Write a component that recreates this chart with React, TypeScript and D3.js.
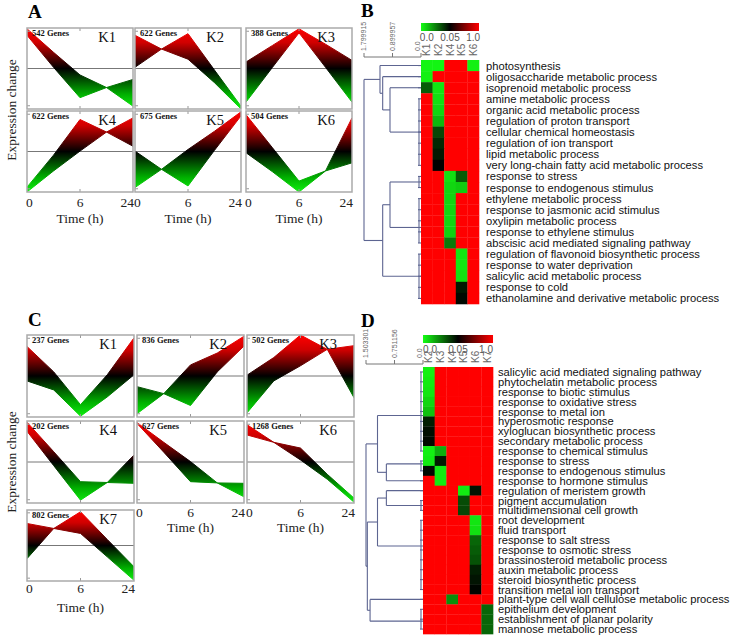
import React from "react";
import * as d3 from "d3";

const SERIF = "'Liberation Serif','Times New Roman',serif";
const SANS = "'Liberation Sans',Arial,sans-serif";

// ---------- time-course clusters ----------
const TIME_POINTS = ["0", "3", "6", "12", "24"];
const TIME_TICKS = ["0", "6", "24"];

const A_NAMES = ["K1", "K2", "K3", "K4", "K5", "K6"];
const A_GENES = [542, 622, 388, 622, 675, 504];
const A_UPPER = [
  [0.98, 0.4, -0.16, -0.47, -0.27],
  [0.82, 0.48, 0.86, -0.04, -0.93],
  [0.16, 0.57, 0.98, 0.6, 0.2],
  [-0.88, -0.09, 0.79, 0.48, 0.83],
  [0.01, -0.44, 0.05, 0.5, 0.98],
  [0.91, 0.09, -0.73, -0.48, 0.83],
];
const A_LOWER = [
  [0.82, 0.03, -0.72, -0.47, -0.93],
  [0.03, 0.48, 0.23, -0.35, -1.0],
  [-0.83, 0.03, 0.88, 0.03, -0.83],
  [-1.0, -0.48, 0.01, 0.48, 0.13],
  [-0.89, -0.44, -0.85, 0.03, 0.88],
  [-0.03, -0.5, -1.0, -0.48, -0.28],
];

const C_NAMES = ["K1", "K2", "K3", "K4", "K5", "K6", "K7"];
const C_GENES = [237, 836, 502, 202, 627, 1268, 802];
const C_UPPER = [
  [0.72, 0.1, -0.7, 0.03, 0.93],
  [-0.26, -0.43, 0.27, 0.56, 0.97],
  [0.02, 0.45, 1.0, 0.65, 0.74],
  [0.97, 0.25, -0.48, -0.5, 0.17],
  [0.96, 0.48, 0.01, -0.51, -0.52],
  [0.91, 0.48, 0.34, -0.3, -0.88],
  [0.62, 0.48, 0.95, 0.17, -0.6],
];
const C_LOWER = [
  [-0.12, -0.34, -0.98, -0.51, 0.03],
  [-0.92, -0.43, -0.72, 0.1, 0.73],
  [-0.9, -0.12, 0.25, 0.65, -0.53],
  [0.75, -0.09, -0.93, -0.5, -0.52],
  [0.94, 0.24, -0.48, -0.51, -0.85],
  [0.66, 0.48, 0.05, -0.42, -0.98],
  [-0.37, 0.48, 0.34, -0.32, -0.98],
];

// ---------- GO enrichment heatmaps ----------
const COLORBAR_TICKS = [0.0, 0.05, 1.0];

const B_COLS = ["K1", "K2", "K4", "K5", "K6"];
const B_TERMS = [
  "photosynthesis",
  "oligosaccharide metabolic process",
  "isoprenoid metabolic process",
  "amine metabolic process",
  "organic acid metabolic process",
  "regulation of proton transport",
  "cellular chemical homeostasis",
  "regulation of ion transport",
  "lipid metabolic process",
  "very long-chain fatty acid metabolic process",
  "response to stress",
  "response to endogenous stimulus",
  "ethylene metabolic process",
  "response to jasmonic acid stimulus",
  "oxylipin metabolic process",
  "response to ethylene stimulus",
  "abscisic acid mediated signaling pathway",
  "regulation of flavonoid biosynthetic process",
  "response to water deprivation",
  "salicylic acid metabolic process",
  "response to cold",
  "ethanolamine and derivative metabolic process",
];
const B_PVALUES = [
  [0.002, 0.002, 1, 1, 0.003],
  [0.003, 1, 1, 1, 1],
  [0.032, 0.005, 1, 1, 1],
  [1, 0.006, 1, 1, 1],
  [1, 0.008, 1, 1, 1],
  [1, 0.014, 1, 1, 1],
  [1, 0.036, 1, 1, 1],
  [1, 0.042, 1, 1, 1],
  [1, 0.045, 1, 1, 1],
  [1, 0.05, 1, 1, 1],
  [1, 1, 0.006, 0.032, 1],
  [1, 1, 0.008, 0.01, 1],
  [1, 1, 0.008, 1, 1],
  [1, 1, 0.008, 1, 1],
  [1, 1, 0.008, 1, 1],
  [1, 1, 0.009, 1, 1],
  [1, 1, 0.026, 1, 1],
  [1, 1, 1, 0.005, 1],
  [1, 1, 1, 0.005, 1],
  [1, 1, 1, 0.006, 1],
  [1, 1, 1, 0.045, 1],
  [1, 1, 1, 0.048, 1],
];
const B_SCALE = [1.799915, 0.899957, 0.0];
const B_TREE = {
  h: 1.799915,
  children: [
    {
      h: 1.295,
      children: [
        { rows: [0, 0] },
        {
          h: 1.21,
          children: [
            { rows: [1, 1] },
            { h: 0.979, children: [{ rows: [2, 2] }, { rows: [3, 9] }] },
          ],
        },
      ],
    },
    {
      h: 1.21,
      children: [
        { h: 0.979, children: [{ rows: [10, 11] }, { rows: [12, 16], at: 14.6 }] },
        { rows: [17, 21] },
      ],
    },
  ],
};

const D_COLS = ["K2", "K3", "K4", "K5", "K6", "K7"];
const D_TERMS = [
  "salicylic acid mediated signaling pathway",
  "phytochelatin metabolic process",
  "response to biotic stimulus",
  "response to oxidative stress",
  "response to metal ion",
  "hyperosmotic response",
  "xyloglucan biosynthetic process",
  "secondary metabolic process",
  "response to chemical stimulus",
  "response to stress",
  "response to endogenous stimulus",
  "response to hormone stimulus",
  "regulation of meristem growth",
  "pigment accumulation",
  "multidimensional cell growth",
  "root development",
  "fluid transport",
  "response to salt stress",
  "response to osmotic stress",
  "brassinosteroid metabolic process",
  "auxin metabolic process",
  "steroid biosynthetic process",
  "transition metal ion transport",
  "plant-type cell wall cellulose metabolic process",
  "epithelium development",
  "establishment of planar polarity",
  "mannose metabolic process",
];
const D_PVALUES = [
  [0.003, 1, 1, 1, 1, 1],
  [0.004, 1, 1, 1, 1, 1],
  [0.005, 1, 1, 1, 1, 1],
  [0.008, 1, 1, 1, 1, 1],
  [0.012, 1, 1, 1, 1, 1],
  [0.044, 1, 1, 1, 1, 1],
  [0.047, 1, 1, 1, 1, 1],
  [0.048, 1, 1, 1, 1, 1],
  [0.003, 0.016, 1, 1, 1, 1],
  [0.004, 0.045, 1, 1, 1, 1],
  [0.048, 0.004, 1, 1, 1, 1],
  [1, 0.004, 1, 1, 1, 1],
  [1, 1, 1, 0.004, 0.046, 1],
  [1, 1, 1, 0.035, 1, 1],
  [1, 1, 1, 0.036, 1, 1],
  [1, 1, 1, 1, 0.005, 1],
  [1, 1, 1, 1, 0.006, 1],
  [1, 1, 1, 1, 0.03, 1],
  [1, 1, 1, 1, 0.032, 1],
  [1, 1, 1, 1, 0.034, 1],
  [1, 1, 1, 1, 0.044, 1],
  [1, 1, 1, 1, 0.046, 1],
  [1, 1, 1, 1, 0.049, 1],
  [1, 1, 0.022, 1, 1, 1],
  [1, 1, 1, 1, 1, 0.03],
  [1, 1, 1, 1, 1, 0.03],
  [1, 1, 1, 1, 1, 0.03],
];
const D_SCALE = [1.503301, 0.751156, 0.0];
const D_TREE = {
  h: 1.503301,
  children: [
    {
      h: 1.2,
      children: [
        { rows: [0, 8], at: 4.4 },
        { h: 0.966, children: [{ rows: [9, 10], at: 9.3 }, { rows: [11, 11] }] },
      ],
    },
    {
      h: 1.468,
      children: [
        {
          h: 1.2,
          children: [
            { h: 0.966, children: [{ rows: [12, 12] }, { rows: [13, 14] }] },
            { rows: [15, 22], at: 17.6 },
          ],
        },
        { h: 1.396, children: [{ rows: [23, 23] }, { rows: [24, 26], at: 25.2 }] },
      ],
    },
  ],
};

// ---------- components ----------
function Cluster({ id, x, y, w, h, name, genes, upper, lower }: any) {
  const xs = d3.scalePoint<string>().domain(TIME_POINTS).range([0, w]);
  const ys = d3.scaleLinear().domain([-1, 1]).range([h, 0]);
  const data = TIME_POINTS.map((t, i) => ({ t, hi: upper[i], lo: lower[i] }));
  const area = d3
    .area<any>()
    .x((d) => xs(d.t) as number)
    .y0((d) => ys(d.lo))
    .y1((d) => ys(d.hi));
  const edge = d3.line<any>().x((d) => xs(d.t) as number);
  const mid = xs("6") as number;
  return (
    <g transform={`translate(${x},${y})`}>
      <defs>
        <linearGradient id={`grad-${id}`} gradientUnits="userSpaceOnUse" x1={0} y1={0} x2={0} y2={h}>
          <stop offset="0" stopColor="#ff0000" />
          <stop offset="0.18" stopColor="#d00000" />
          <stop offset="0.5" stopColor="#000000" />
          <stop offset="0.82" stopColor="#00b000" />
          <stop offset="1" stopColor="#10f010" />
        </linearGradient>
        <clipPath id={`clip-${id}`}>
          <rect x={0} y={0} width={w} height={h} />
        </clipPath>
      </defs>
      <rect x={0} y={0} width={w} height={h} fill="#fff" />
      <line x1={0} x2={w} y1={ys(0)} y2={ys(0)} stroke="#777" strokeWidth={1} />
      <g clipPath={`url(#clip-${id})`}>
        <path d={area(data) || ""} fill={`url(#grad-${id})`} />
        <path d={edge.y((d) => ys(d.hi))(data) || ""} fill="none" stroke={`url(#grad-${id})`} strokeWidth={1} />
        <path d={edge.y((d) => ys(d.lo))(data) || ""} fill="none" stroke={`url(#grad-${id})`} strokeWidth={1} />
      </g>
      <line x1={mid} x2={mid} y1={h} y2={h - 3} stroke="#999" />
      <line x1={mid} x2={mid} y1={0} y2={3} stroke="#999" />
      <line x1={0} x2={3} y1={ys(0.92)} y2={ys(0.92)} stroke="#999" />
      <line x1={0} x2={3} y1={ys(-0.92)} y2={ys(-0.92)} stroke="#999" />
      <rect x={0} y={0} width={w} height={h} fill="none" stroke="#aaa" strokeWidth={1.5} />
      <text x={5} y={7.5} fontFamily={SERIF} fontWeight="bold" fontSize={8.5} fill="#111">
        {genes} Genes
      </text>
      <text x={w - 17} y={14} textAnchor="end" fontFamily={SERIF} fontWeight="normal" fontSize={14.5} fill="#111">
        {name}
      </text>
    </g>
  );
}

function TimeAxis({ x, w, tickY, titleY }: any) {
  const xs = d3.scalePoint<string>().domain(TIME_POINTS).range([x, x + w]);
  return (
    <g fontFamily={SERIF} fontWeight="normal" fill="#222">
      {TIME_TICKS.map((t, i) => (
        <text
          key={t}
          x={(xs(t) as number) + (i === 0 ? -1 : i === TIME_TICKS.length - 1 ? 1 : 0)}
          y={tickY}
          fontSize={13.5}
          textAnchor={i === 0 ? "start" : i === TIME_TICKS.length - 1 ? "end" : "middle"}
        >
          {t}
        </text>
      ))}
      <text x={x + w / 2} y={titleY} fontSize={13.5} textAnchor="middle">
        Time (h)
      </text>
    </g>
  );
}

function Heatmap({ id, left, top, cellW, cellH, cols, terms, pvals, tree, scale, scaleLeft, scaleY, barTop, labelGap }: any) {
  const width = cellW * cols.length;
  const color = d3.scaleLinear<string>().domain([0, 0.05, 1]).range(["#14ff14", "#000000", "#ff0000"]);
  const xb = d3.scaleBand<string>().domain(cols).range([left, left + width]);
  const yb = d3.scaleBand<string>().domain(terms).range([top, top + cellH * terms.length]);
  const hx = d3.scaleLinear().domain([0, scale[0]]).range([left, scaleLeft]);
  const rowY = (i: number) => top + cellH * (i + 0.5);
  const segs: number[][] = [];
  const walk = (n: any): { x: number; y: number } => {
    if (n.rows) {
      const [a, b] = n.rows;
      for (let r = a; r <= b; r++) segs.push([left - 3, rowY(r), left, rowY(r)]);
      if (b > a) segs.push([left - 2, rowY(a), left - 2, rowY(b)]);
      return { x: left, y: rowY(n.at ?? (a + b) / 2) };
    }
    const kids = n.children.map(walk);
    const x = hx(n.h);
    const ysv = kids.map((k: any) => k.y);
    segs.push([x, Math.min(...ysv), x, Math.max(...ysv)]);
    kids.forEach((k: any) => segs.push([x, k.y, k.x, k.y]));
    return { x, y: (Math.min(...ysv) + Math.max(...ysv)) / 2 };
  };
  walk(tree);
  const tickFrac = [0.1, 0.5, 0.9];
  return (
    <g>
      <defs>
        <linearGradient id={`cb-${id}`} x1="0" x2="1" y1="0" y2="0">
          <stop offset="0" stopColor="#14ff14" />
          <stop offset="0.5" stopColor="#000000" />
          <stop offset="1" stopColor="#ff0000" />
        </linearGradient>
      </defs>
      {/* colour bar */}
      <rect x={left} y={barTop} width={width} height={8} fill={`url(#cb-${id})`} />
      {COLORBAR_TICKS.map((v, i) => (
        <text key={i} x={left + width * tickFrac[i]} y={barTop + 18} fontFamily={SANS} fontSize={10} fill="#555" textAnchor="middle">
          {v === 0.05 ? "0.05" : v.toFixed(1)}
        </text>
      ))}
      {/* column labels */}
      {cols.map((c: string) => (
        <text
          key={c}
          transform={`translate(${(xb(c) as number) + xb.bandwidth() / 2 + 3.5},${top - 4}) rotate(-90)`}
          fontFamily={SANS}
          fontSize={10}
          fill="#666"
        >
          {c}
        </text>
      ))}
      {/* dendrogram scale */}
      <line x1={hx(scale[0])} x2={hx(0)} y1={scaleY} y2={scaleY} stroke="#777" />
      {scale.map((v: number, i: number) => (
        <g key={i}>
          <line x1={hx(v)} x2={hx(v)} y1={scaleY} y2={scaleY - 4} stroke="#777" />
          <text
            transform={`translate(${hx(v) + (i === scale.length - 1 ? -1 : 2)},${scaleY - 6}) rotate(-90)`}
            fontFamily={SANS}
            fontSize={7}
            fill="#666"
          >
            {v === 0 ? "0.0" : String(v)}
          </text>
        </g>
      ))}
      {/* cells */}
      {pvals.map((row: number[], r: number) =>
        row.map((p: number, c: number) => (
          <rect
            key={`${r}-${c}`}
            x={xb(cols[c])}
            y={yb(terms[r])}
            width={xb.bandwidth() + 0.3}
            height={yb.bandwidth() + 0.3}
            fill={color(p)}
          />
        ))
      )}
      {/* dendrogram */}
      {segs.map((s, i) => (
        <line key={i} x1={s[0]} y1={s[1]} x2={s[2]} y2={s[3]} stroke="#5d6591" strokeWidth={1.1} />
      ))}
      {/* row labels */}
      {terms.map((t: string, i: number) => (
        <text key={t} x={left + width + labelGap} y={rowY(i)} dy="0.36em" fontFamily={SANS} fontSize={11.2} fill="#111">
          {t}
        </text>
      ))}
    </g>
  );
}

export default function App() {
  const aX = [27, 135, 246];
  const aY = [28, 111];
  const aW = 106;
  const aH = 81;
  const cX = [27, 137, 247];
  const cY = [335, 421, 510];
  const cW = 107;
  const cH = [82, 82, 71];
  return (
    <svg width={740} height={640} style={{ position: "absolute", left: 0, top: 0, background: "#fff" }}>
      <rect width={740} height={640} fill="#fff" />
      {/* Panel letters */}
      <g fontFamily={SERIF} fontWeight="bold" fontSize={19} fill="#000">
        <text x={28} y={18}>A</text>
        <text x={361} y={17}>B</text>
        <text x={28} y={326}>C</text>
        <text x={361} y={327}>D</text>
      </g>

      {/* Panel A */}
      <text transform="translate(16,110) rotate(-90)" textAnchor="middle" fontFamily={SERIF} fontSize={13.5} fill="#222">
        Expression change
      </text>
      {A_NAMES.map((n, i) => (
        <Cluster
          key={`A${n}`}
          id={`A${n}`}
          x={aX[i % 3]}
          y={aY[Math.floor(i / 3)]}
          w={aW}
          h={aH}
          name={n}
          genes={A_GENES[i]}
          upper={A_UPPER[i]}
          lower={A_LOWER[i]}
        />
      ))}
      {aX.map((x, i) => (
        <TimeAxis key={`ta${i}`} x={x} w={aW} tickY={207} titleY={223} />
      ))}

      {/* Panel C */}
      <text transform="translate(16,462) rotate(-90)" textAnchor="middle" fontFamily={SERIF} fontSize={13.5} fill="#222">
        Expression change
      </text>
      {C_NAMES.map((n, i) => (
        <Cluster
          key={`C${n}`}
          id={`C${n}`}
          x={cX[i % 3]}
          y={cY[Math.floor(i / 3)]}
          w={cW}
          h={cH[Math.floor(i / 3)]}
          name={n}
          genes={C_GENES[i]}
          upper={C_UPPER[i]}
          lower={C_LOWER[i]}
        />
      ))}
      <TimeAxis x={cX[1]} w={cW} tickY={517} titleY={532} />
      <TimeAxis x={cX[2]} w={cW} tickY={517} titleY={532} />
      <TimeAxis x={cX[0]} w={cW} tickY={593} titleY={612} />

      {/* Panel B */}
      <Heatmap
        id="B"
        left={421}
        top={60}
        cellW={11.6}
        cellH={11.09}
        cols={B_COLS}
        terms={B_TERMS}
        pvals={B_PVALUES}
        tree={B_TREE}
        scale={B_SCALE}
        scaleLeft={364}
        scaleY={57}
        barTop={23}
        labelGap={7}
      />
      {/* Panel D */}
      <Heatmap
        id="D"
        left={423}
        top={367}
        cellW={11.67}
        cellH={9.89}
        cols={D_COLS}
        terms={D_TERMS}
        pvals={D_PVALUES}
        tree={D_TREE}
        scale={D_SCALE}
        scaleLeft={366}
        scaleY={364}
        barTop={335}
        labelGap={5}
      />
    </svg>
  );
}
